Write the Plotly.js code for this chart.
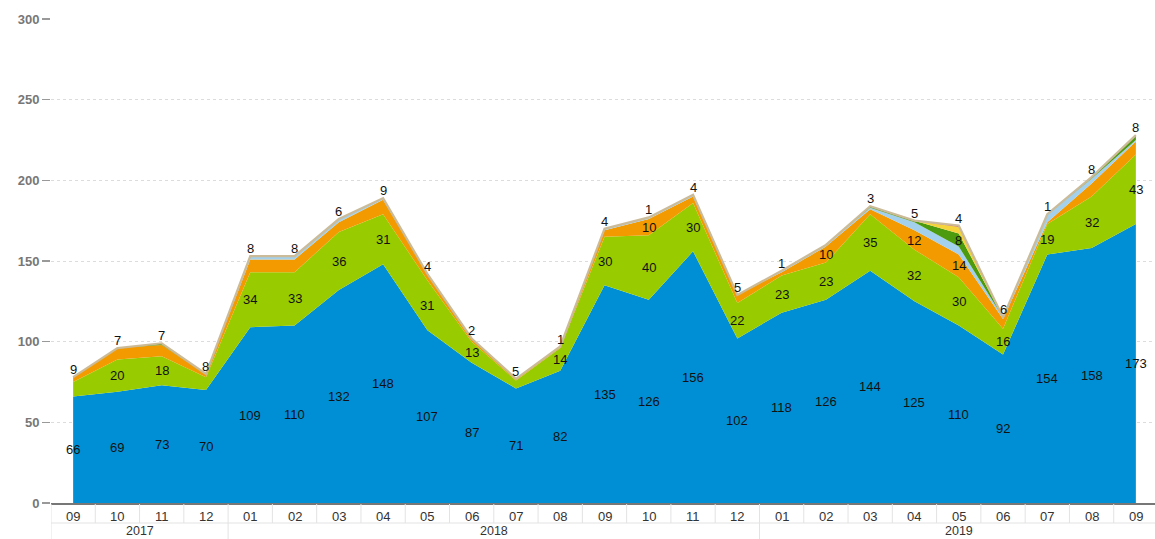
<!DOCTYPE html>
<html>
<head>
<meta charset="utf-8">
<script src="https://cdn.plot.ly/plotly-3.0.1.min.js"></script>
<style>
html,body{margin:0;padding:0;background:#fff;overflow:hidden;}
#chart{width:1158px;height:539px;}
</style>
</head>
<body>
<div id="chart"></div>
<script>
// ---- data ----
const months = ['09','10','11','12','01','02','03','04','05','06','07','08','09','10','11','12','01','02','03','04','05','06','07','08','09'];
const years = ['2017','2018','2019'];
const monthsPerYear = [4, 12, 9];

const seriesBlue      = [66,69,73,70,109,110,132,148,107,87,71,82,135,126,156,102,118,126,144,125,110,92,154,158,173];
const seriesGreen     = [9,20,18,8,34,33,36,31,31,13,5,14,30,40,30,22,23,23,35,32,30,16,19,32,43];
const seriesOrange    = [3,7,7,2,8,8,6,9,4,2,1,1,4,10,4,5,2,10,3,12,14,6,1,8,8];
const seriesLightBlue = [0,0,0,0,2,2,2,1,0,0,0,0,1,1,1,0,1,1,1,5,5,1,5,3,1];
const seriesDarkGreen = [0,0,1,0,0,0,0,0,0,0,0,0,0,0,0,0,0,0,1,1,8,0,0,1,3];
const seriesYellow    = [0,0,0,0,0,0,0,0,0,0,0,0,0,0,0,0,0,0,0,0,4,0,0,0,0];
const seriesRed       = [0,0,0,0,0,0,0,0,0,0,0,0,0,0,0,0,0,0,0,0,1,0,0,0,0];

// which series' value label sits above the stack in each month
const topLabelSeries = ['green','orange','orange','green','orange','orange','orange','orange','orange','orange','green','orange',
  'orange','lightBlue','orange','orange','lightBlue',null,'orange','lightBlue','yellow','orange','orange','orange','orange'];

// ---- drawing ----
const series = [
  {key:'blue',      y:seriesBlue,      color:'#008fd5'},
  {key:'green',     y:seriesGreen,     color:'#99cc00'},
  {key:'orange',    y:seriesOrange,    color:'#f39a00'},
  {key:'lightBlue', y:seriesLightBlue, color:'#a3d0ec'},
  {key:'darkGreen', y:seriesDarkGreen, color:'#4c9a0e'},
  {key:'yellow',    y:seriesYellow,    color:'#f5d33a'},
  {key:'red',       y:seriesRed,       color:'#e0663e'}
];
const xs = months.map((m,i)=>i);
const traces = series.map(s=>({
  type:'scatter', x:xs, y:s.y, stackgroup:'one', mode:'lines',
  line:{width:0, color:s.color}, fillcolor:s.color, hoverinfo:'skip', name:s.key
}));
const totals = xs.map(i=>series.reduce((a,s)=>a+s.y[i],0));
traces.push({type:'scatter', x:xs, y:totals, mode:'lines', line:{color:'#cbbb98', width:2.2}, hoverinfo:'skip'});

const font = {family:'Liberation Sans, Arial, sans-serif', size:13, color:'#111'};
const annotations = [];
xs.forEach(i=>{
  let base = 0;
  series.forEach(s=>{
    const v = s.y[i];
    const isTop = topLabelSeries[i] === s.key;
    if (v > 0 && !isTop && (s.key==='blue' || v >= 8)) {
      annotations.push({x:i, y:base+v/2, xref:'x', yref:'y', text:String(v), showarrow:false, font:font, yanchor:'middle'});
    }
    if (isTop) {
      annotations.push({x:i, y:totals[i], xref:'x', yref:'y', text:String(v), showarrow:false, font:font, yanchor:'bottom', yshift:-2});
    }
    base += v;
  });
});

// category table below the axis
const axFont = {family:'Liberation Sans, Arial, sans-serif', size:13, color:'#333'};
const shapes = [];
const lineStyle = {color:'#e3e3e3', width:1};
months.forEach((m,i)=>{
  annotations.push({x:i, y:0, xref:'x', yref:'paper', yshift:-13, text:m, showarrow:false, font:axFont, yanchor:'middle'});
});
for (let b=0; b<=months.length; b++) {
  shapes.push({type:'line', xref:'x', yref:'paper', ysizemode:'pixel', yanchor:0, x0:b-0.5, x1:b-0.5, y0:-1, y1:-20, line:lineStyle});
}
shapes.push({type:'line', xref:'paper', yref:'paper', ysizemode:'pixel', yanchor:0, x0:0, x1:1, y0:-20, y1:-20, line:lineStyle});
let start = 0;
years.forEach((yr,k)=>{
  const n = monthsPerYear[k];
  annotations.push({x:start+(n-1)/2, y:0, xref:'x', yref:'paper', yshift:-28, text:yr, showarrow:false,
    font:{family:'Liberation Sans, Arial, sans-serif', size:12.5, color:'#333'}, yanchor:'middle'});
  shapes.push({type:'line', xref:'x', yref:'paper', ysizemode:'pixel', yanchor:0, x0:start-0.5, x1:start-0.5, y0:-20, y1:-40, line:lineStyle});
  start += n;
});

const layout = {
  width:1158, height:539,
  margin:{l:51, r:0, t:19, b:36},
  paper_bgcolor:'#fff', plot_bgcolor:'#fff',
  showlegend:false,
  xaxis:{range:[-0.5,24.5], showgrid:false, zeroline:false, showticklabels:false, ticks:'',
         showline:true, linecolor:'#777', linewidth:1.5, fixedrange:true},
  yaxis:{range:[0,300], tickvals:[0,50,100,150,200,250,300], showgrid:true, gridcolor:'#dcdcdc', griddash:'dot',
         zeroline:false, ticks:'outside', ticklen:8, tickcolor:'#999', tickwidth:1.5,
         tickfont:{family:'Liberation Sans, Arial, sans-serif', size:13, color:'#777', weight:'bold'}, fixedrange:true},
  annotations:annotations, shapes:shapes
};
Plotly.newPlot('chart', traces, layout, {staticPlot:true, displayModeBar:false});
</script>
</body>
</html>
